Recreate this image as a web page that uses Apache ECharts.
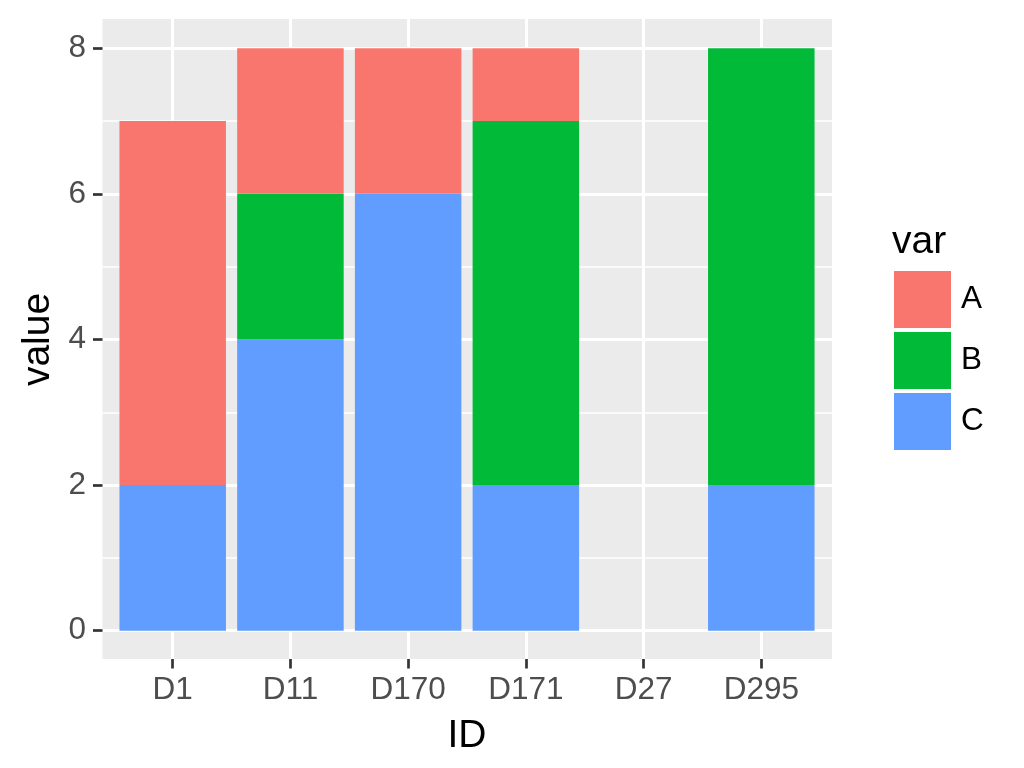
<!DOCTYPE html>
<html>
<head>
<meta charset="utf-8">
<script src="https://cdn.jsdelivr.net/npm/echarts@6/dist/echarts.min.js"></script>
<style>html,body{margin:0;padding:0;background:#fff}#c{width:1024px;height:768px}</style>
</head>
<body>
<div id="c"></div>
<script>
const categories = ['D1', 'D11', 'D170', 'D171', 'D27', 'D295'];
const seriesA = [5, 2, 2, 1, 0, 0];
const seriesB = [0, 2, 0, 5, 0, 6];
const seriesC = [2, 4, 6, 2, 0, 2];
const yTicks = { min: 0, max: 8, interval: 2 };

const FONT = 'Liberation Sans, Arial, sans-serif';
const chart = echarts.init(document.getElementById('c'));

// panel extents
const P = { left: 102.5, right: 192, top: 19, bottom: 109 };
const Y0 = { top: 48.2, bottom: 137.3 };      // y=8 and y=0 pixel rows
const XC = { left: 172.7, right: 262.7 };     // first/last category centres

const tickStyle = { show: true, length: 9.5, inside: false, lineStyle: { color: '#333333', width: 2.7 } };

chart.setOption({
  animation: false,
  backgroundColor: '#ffffff',
  grid: [
    { left: P.left, right: P.right, top: P.top, bottom: P.bottom, show: true, backgroundColor: '#EBEBEB', borderWidth: 0, containLabel: false },
    { left: P.left, right: P.right, top: Y0.top, bottom: Y0.bottom, containLabel: false },
    { left: XC.left, right: XC.right, top: P.top, bottom: P.bottom, containLabel: false },
    { left: XC.left, right: XC.right, top: Y0.top, bottom: Y0.bottom, containLabel: false }
  ],
  xAxis: [
    { gridIndex: 0, type: 'value', show: false },
    { gridIndex: 1, type: 'value', show: false },
    {
      gridIndex: 2, type: 'category', data: categories, boundaryGap: false,
      axisLine: { show: false },
      axisTick: Object.assign({ interval: 0 }, tickStyle),
      axisLabel: { interval: 0, fontSize: 31.5, color: '#4D4D4D', fontFamily: FONT, margin: 15.5 },
      splitLine: { show: true, interval: 0, lineStyle: { color: '#ffffff', width: 3 } },
      name: 'ID', nameLocation: 'middle', nameGap: 58,
      nameTextStyle: { fontSize: 39, color: '#000000', fontFamily: FONT }
    },
    { gridIndex: 3, type: 'category', data: categories, boundaryGap: false, show: false }
  ],
  yAxis: [
    { gridIndex: 0, type: 'value', show: false },
    {
      gridIndex: 1, type: 'value', min: yTicks.min, max: yTicks.max, interval: yTicks.interval,
      axisLine: { show: false },
      axisTick: tickStyle,
      axisLabel: { fontSize: 31.5, color: '#4D4D4D', fontFamily: FONT, margin: 16.5 },
      splitLine: { show: true, lineStyle: { color: '#ffffff', width: 3 } },
      minorTick: { show: false, splitNumber: 2 },
      minorSplitLine: { show: true, lineStyle: { color: '#ffffff', width: 1.5 } },
      name: 'value', nameLocation: 'middle', nameGap: 45, nameRotate: 90,
      nameTextStyle: { fontSize: 39, color: '#000000', fontFamily: FONT }
    },
    { gridIndex: 2, type: 'value', show: false },
    { gridIndex: 3, type: 'value', min: yTicks.min, max: yTicks.max, show: false }
  ],
  legend: {
    data: ['A', 'B', 'C'], orient: 'vertical', left: 894, top: 271, padding: 0,
    icon: 'rect', itemWidth: 57, itemHeight: 57, itemGap: 4,
    textStyle: { fontSize: 31.5, color: '#000000', fontFamily: FONT, padding: [4, 0, 0, 5] },
    selectedMode: false
  },
  graphic: [
    { type: 'text', left: 892, top: 223, style: { text: 'var', fontSize: 39, fill: '#000000', fontFamily: FONT } }
  ],
  series: [
    { name: 'C', type: 'bar', stack: 'total', data: seriesC, xAxisIndex: 3, yAxisIndex: 3, barWidth: 106.5, clip: false, itemStyle: { color: '#619CFF' } },
    { name: 'B', type: 'bar', stack: 'total', data: seriesB, xAxisIndex: 3, yAxisIndex: 3, barWidth: 106.5, clip: false, itemStyle: { color: '#00BA38' } },
    { name: 'A', type: 'bar', stack: 'total', data: seriesA, xAxisIndex: 3, yAxisIndex: 3, barWidth: 106.5, clip: false, itemStyle: { color: '#F8766D' } }
  ]
});
</script>
</body>
</html>
